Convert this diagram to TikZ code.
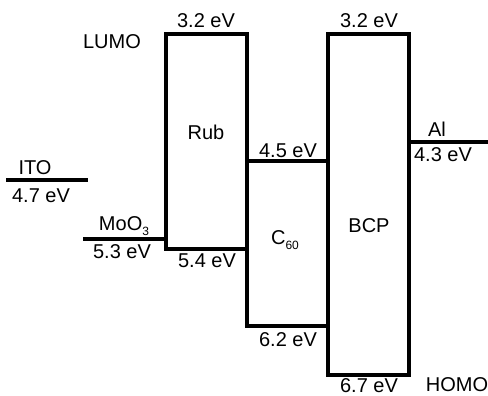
\documentclass[tikz,border=0pt]{standalone}
\usepackage{fontspec}
\setmainfont{Liberation Sans}
\newcommand{\lowsub}[1]{\raisebox{-5pt}{\fontsize{12}{12}\selectfont #1}}
\begin{document}
\begin{tikzpicture}[x=1pt,y=-1pt,
  lvl/.style={line width=3.2pt,line cap=rect},
  box/.style={line width=3.2pt,line join=miter},
  lbl/.style={font=\fontsize{20}{20}\selectfont,inner sep=0pt}]
\useasboundingbox (0,0) rectangle (488,396);
% coordinates
\coordinate (ito1) at (8,180);   \coordinate (ito2) at (86,180);
\coordinate (moo1) at (85,239);  \coordinate (moo2) at (166,239);
\coordinate (al1) at (409,142);  \coordinate (al2) at (488,142);
\coordinate (rubTL) at (166,34); \coordinate (rubBR) at (247,249);
\coordinate (cTL) at (247,161);  \coordinate (cBR) at (328,326);
\coordinate (bTL) at (328,34);   \coordinate (bBR) at (409,375);
% levels
\draw[lvl] (ito1) -- (ito2);
\draw[lvl] (moo1) -- (moo2);
\draw[lvl] (al1) -- (al2);
\draw[box] (rubTL) rectangle (rubBR);
\draw[box] (cTL) rectangle (cBR);
\draw[box] (bTL) rectangle (bBR);
% labels
\node[lbl] (tITO) at (35,168) {ITO};
\node[lbl] (vITO) at (41,196) {4.7 eV};
\node[lbl] (tMoO) at (124,226) {MoO\lowsub{3}};
\node[lbl] (vMoO) at (122,252) {5.3 eV};
\node[lbl] (tLUMO) at (112,42) {LUMO};
\node[lbl] (vRubL) at (206,21) {3.2 eV};
\node[lbl] (tRub) at (206,132) {Rub};
\node[lbl] (vRubH) at (207,261) {5.4 eV};
\node[lbl] (vCL) at (288,151) {4.5 eV};
\node[lbl] (tC) at (285,240) {C\lowsub{60}};
\node[lbl] (vCH) at (288,340) {6.2 eV};
\node[lbl] (vBL) at (369,21) {3.2 eV};
\node[lbl] (tB) at (369,226) {BCP};
\node[lbl] (vBH) at (369,386) {6.7 eV};
\node[lbl] (tHOMO) at (457,385) {HOMO};
\node[lbl] (tAl) at (437,129) {Al};
\node[lbl] (vAl) at (443,155) {4.3 eV};
\end{tikzpicture}
\end{document}
